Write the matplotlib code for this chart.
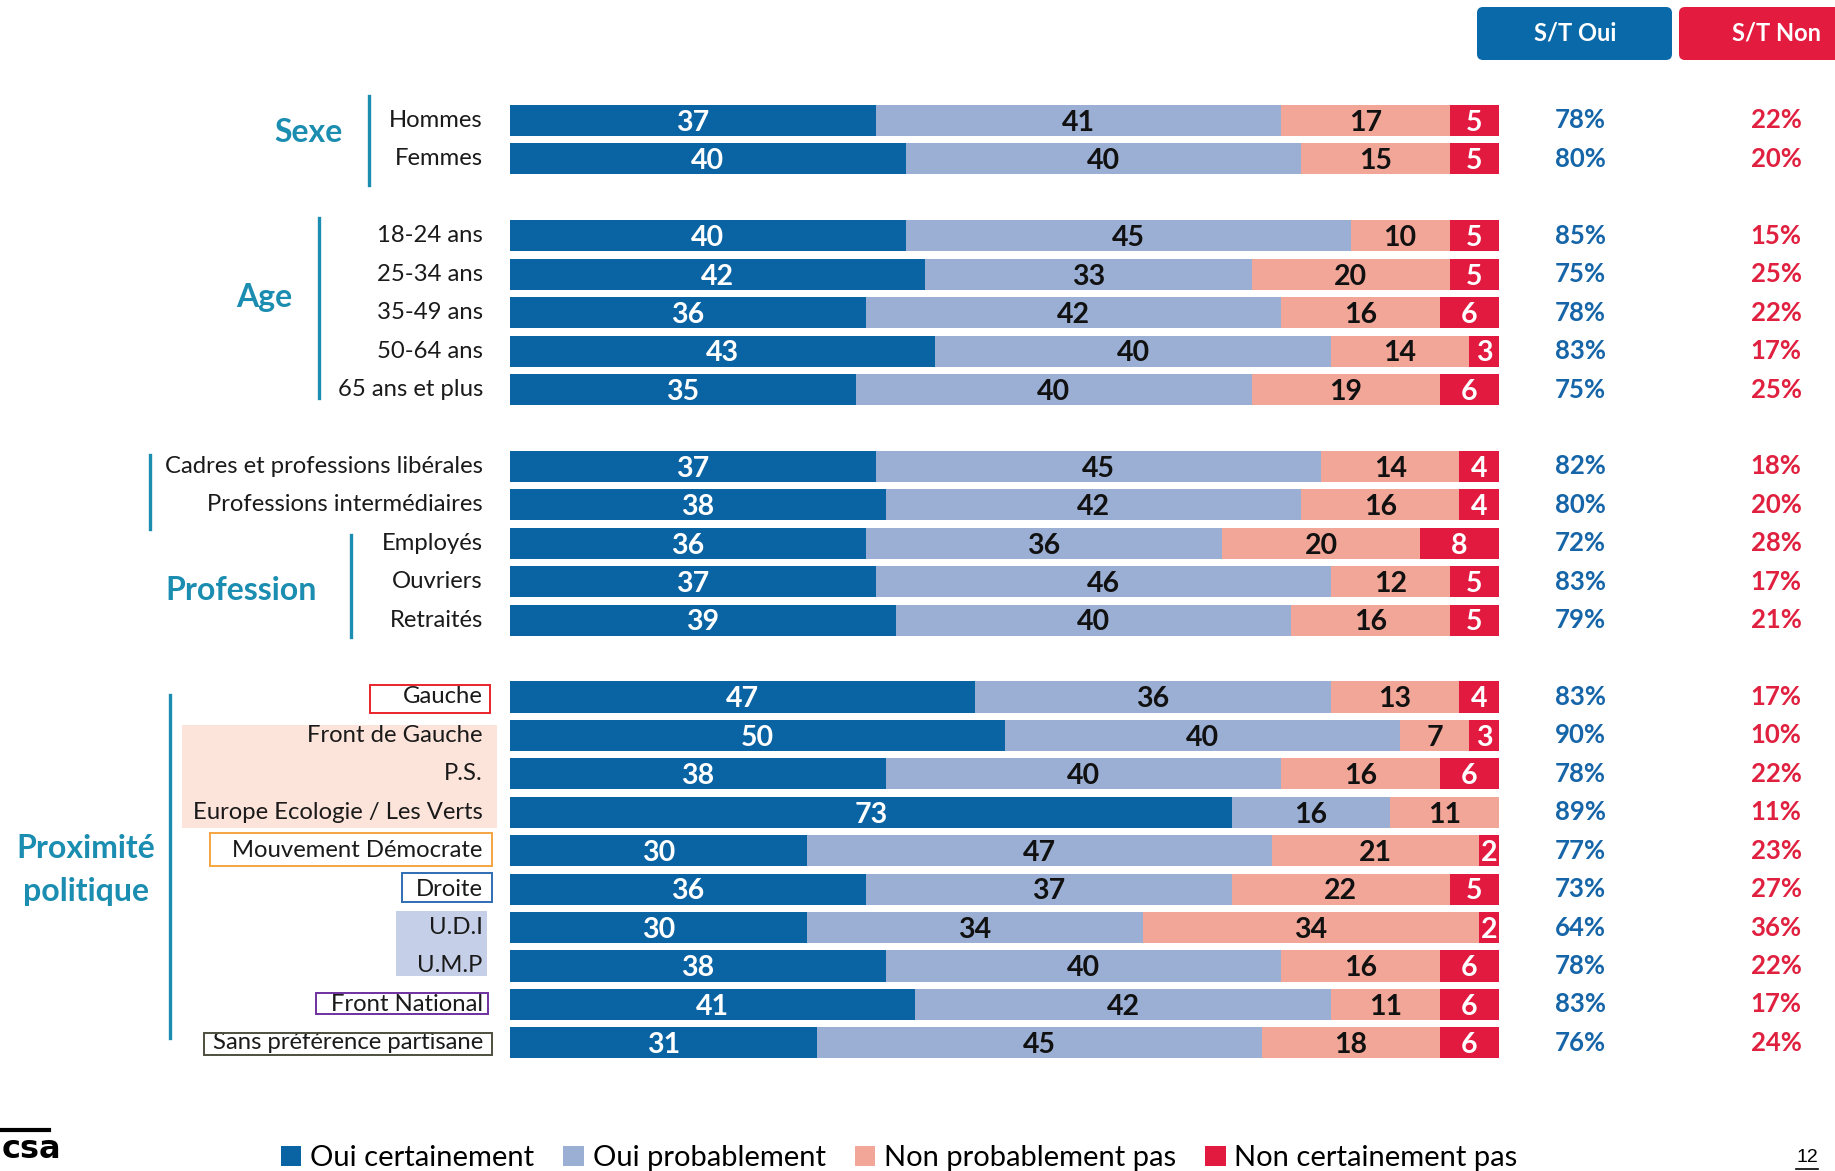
import matplotlib
matplotlib.use("Agg")
import matplotlib.pyplot as plt
import matplotlib.transforms as mtransforms
from matplotlib.patches import Rectangle, FancyBboxPatch

# donnees
labels = ["Hommes", "Femmes",
          "18-24 ans", "25-34 ans", "35-49 ans", "50-64 ans", "65 ans et plus",
          "Cadres et professions libérales", "Professions intermédiaires",
          "Employés", "Ouvriers", "Retraités",
          "Gauche", "Front de Gauche", "P.S.", "Europe Ecologie / Les Verts",
          "Mouvement Démocrate", "Droite", "U.D.I", "U.M.P",
          "Front National", "Sans préférence partisane"]
group_sizes = [2, 5, 5, 10]

oui_cert = [37, 40, 40, 42, 36, 43, 35, 37, 38, 36, 37, 39,
            47, 50, 38, 73, 30, 36, 30, 38, 41, 31]
oui_prob = [41, 40, 45, 33, 42, 40, 40, 45, 42, 36, 46, 40,
            36, 40, 40, 16, 47, 37, 34, 40, 42, 45]
non_prob = [17, 15, 10, 20, 16, 14, 19, 14, 16, 20, 12, 16,
            13, 7, 16, 11, 21, 22, 34, 16, 11, 18]
non_cert = [5, 5, 5, 5, 6, 3, 6, 4, 4, 8, 5, 5,
            4, 3, 6, 0, 2, 5, 2, 6, 6, 6]
st_oui = [78, 80, 85, 75, 78, 83, 75, 82, 80, 72, 83, 79,
          83, 90, 78, 89, 77, 73, 64, 78, 83, 76]
st_non = [22, 20, 15, 25, 22, 17, 25, 18, 20, 28, 17, 21,
          17, 10, 22, 11, 23, 27, 36, 22, 17, 24]

series_names = ["Oui certainement", "Oui probablement",
                "Non probablement pas", "Non certainement pas"]
colors = ["#0A64A4", "#9BAFD5", "#F2A698", "#E21A40"]
txt_colors = ["white", "#111111", "#111111", "white"]
teal = "#1A8DB0"

W, H = 1835, 1171
FONT = "Lato"

fig = plt.figure(figsize=(W / 100, H / 100), dpi=100)
ax = fig.add_axes([0, 0, 1, 1])
ax.axis("off")

# echelle : 100 % = 989 px, lignes espacees de 38.43 px
x0_px, unit_px = 510, 9.89
y0_px, pitch_px = 120.5, 38.43
ax.set_xlim(-x0_px / unit_px, (W - x0_px) / unit_px)
ax.set_ylim((H - y0_px) / pitch_px, -y0_px / pitch_px)

# transformation en pixels pour les decorations
pxt = mtransforms.Affine2D().scale(1 / W, -1 / H).translate(0, 1) + fig.transFigure

# positions des lignes (une ligne vide entre les groupes)
rows = []
pos = 0
for n in group_sizes:
    rows += list(range(pos, pos + n))
    pos += n + 1

series = [oui_cert, oui_prob, non_prob, non_cert]
lefts = [0] * len(labels)
handles = []
for vals, col, tcol, name in zip(series, colors, txt_colors, series_names):
    b = ax.barh(rows, vals, left=lefts, height=0.81, color=col, label=name)
    handles.append(b)
    for y, l, v in zip(rows, lefts, vals):
        if v > 0:
            ax.text(l + v / 2, y + 0.06, str(v), ha="center", va="center",
                    color=tcol, fontsize=20.5, fontweight="bold", family=FONT)
    lefts = [l + v for l, v in zip(lefts, vals)]

# libelles des categories
for y, lab in zip(rows, labels):
    ax.text(-2.75, y, lab, ha="right", va="center", fontsize=17.2,
            color="#1a1a1a", family=FONT)

# colonnes S/T
col_oui_x = (1580 - x0_px) / unit_px
col_non_x = (1776 - x0_px) / unit_px
for y, o, n in zip(rows, st_oui, st_non):
    ax.text(col_oui_x, y, f"{o}%", ha="center", va="center", fontsize=18.5,
            fontweight="bold", color="#1565A8", family=FONT)
    ax.text(col_non_x, y, f"{n}%", ha="center", va="center", fontsize=18.5,
            fontweight="bold", color="#E0203F", family=FONT)

# en-tetes
for (bx, bw, col, txt, tx) in [(1477, 195, "#0A69A8", "S/T Oui", 1575),
                               (1679, 170, "#E31B3F", "S/T Non", 1776)]:
    fig.add_artist(FancyBboxPatch((bx, 7), bw, 53, transform=pxt,
                                  boxstyle="round,pad=0,rounding_size=6",
                                  facecolor=col, edgecolor="none"))
    fig.text(tx, 33, txt, transform=pxt, ha="center", va="center",
             color="white", fontsize=17, fontweight="bold", family=FONT)

# titres de groupes et traits verticaux
for (x, ya, yb) in [(369, 96, 185), (319, 218, 398), (150, 455, 529),
                    (351, 535, 637), (170, 695, 1038)]:
    fig.add_artist(plt.Line2D([x, x], [ya, yb], transform=pxt,
                              color=teal, lw=2.4))
for (x, y, txt, ha) in [(343, 133, "Sexe", "right"), (292, 298, "Age", "right"),
                        (241, 590, "Profession", "center"),
                        (86, 848, "Proximité", "center"),
                        (86, 892, "politique", "center")]:
    fig.text(x, y, txt, transform=pxt, ha=ha, va="center", color=teal,
             fontsize=23, fontweight="bold", family=FONT)

# encadres et surlignages de la proximite politique
fills = [(182, 725, 497, 828, "#FDE4DB"), (396, 911, 487, 976, "#C5CFE7")]
for (xa, ya, xb, yb, c) in fills:
    fig.add_artist(Rectangle((xa, ya), xb - xa, yb - ya, transform=pxt,
                             facecolor=c, edgecolor="none", zorder=0))
frames = [(370, 685, 490, 713, "#E8242B"), (210, 833, 492, 866, "#F5A540"),
          (402, 873, 492, 902, "#2E6DB4"), (316, 993, 488, 1014, "#7030A0"),
          (204, 1033, 492, 1055, "#4F4F3F")]
for (xa, ya, xb, yb, c) in frames:
    fig.add_artist(Rectangle((xa, ya), xb - xa, yb - ya, transform=pxt,
                             facecolor="none", edgecolor=c, lw=1.4))

# legende
fig.legend(handles=handles, labels=series_names, loc="center left",
           bbox_to_anchor=(281 / W, 1 - 1158 / H), ncol=4, frameon=False,
           prop={"family": FONT, "size": 21}, handlelength=0.7,
           handleheight=0.7, handletextpad=0.3, columnspacing=1.0,
           borderaxespad=0, borderpad=0)

# logo et numero de page
fig.add_artist(plt.Line2D([0, 49], [1130, 1130], transform=pxt,
                          color="black", lw=3))
fig.text(2, 1134, "csa", transform=pxt, ha="left", va="top",
         fontsize=23, fontweight="bold",
         family=["Liberation Sans Narrow", "DejaVu Sans"])
fig.text(1807, 1157, "12", transform=pxt, ha="center", va="center",
         fontsize=14, family="Liberation Sans")
fig.add_artist(plt.Line2D([1796, 1818], [1169, 1169], transform=pxt,
                          color="black", lw=1.2))

fig.savefig("out.png", dpi=100)
